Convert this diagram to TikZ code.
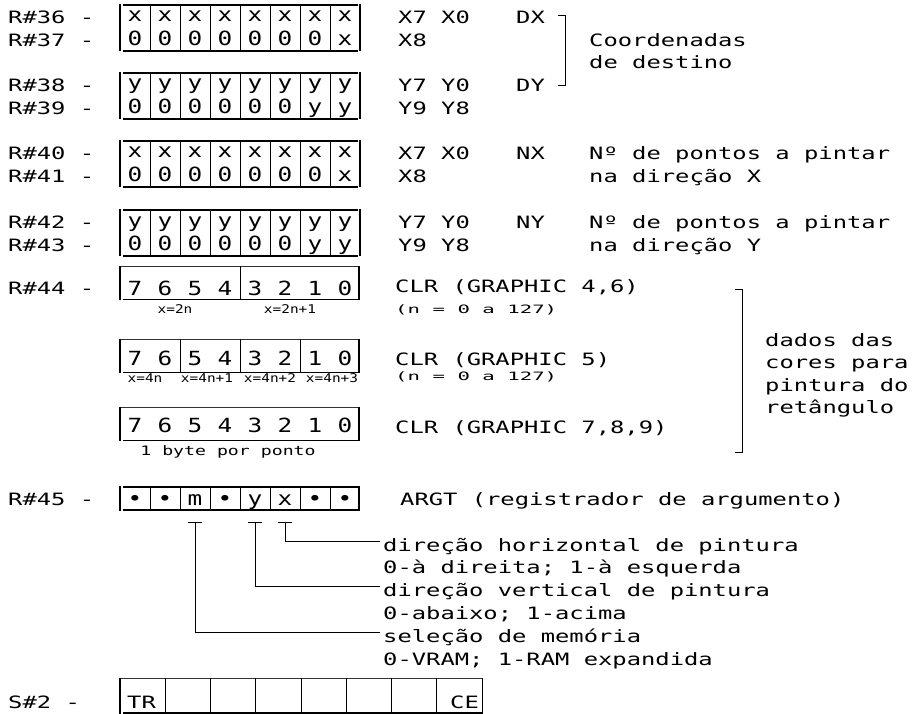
\documentclass[tikz,border=0pt]{standalone}
\usepackage{fontspec}
\usetikzlibrary{positioning}
\newfontfamily\regfont[FakeStretch=1.4]{DejaVu Sans Mono}
\newfontfamily\bitfont[FakeStretch=1.25]{DejaVu Sans Mono}
\newfontfamily\notefont[FakeStretch=1.2]{DejaVu Sans Mono}
\newfontfamily\widefont[FakeStretch=1.8]{DejaVu Sans Mono}
\tikzset{
  lbl/.style={anchor=base west, inner sep=0pt, font=\regfont\fontsize{17}{20}\selectfont},
  bit/.style={anchor=base, inner sep=0pt, font=\bitfont\fontsize{19.5}{23}\selectfont},
  note/.style={anchor=base, inner sep=0pt, font=\notefont\fontsize{12}{14}\selectfont},
  nrange/.style={anchor=base west, inner sep=0pt, font=\widefont\fontsize{11.5}{14}\selectfont},
  rule/.style={line width=1.6pt},
  bar/.style={line width=1.3pt},
  cell/.style={line width=0.9pt},
  hair/.style={line width=0.8pt, black!80},
  link/.style={line width=1pt},
}
\begin{document}
\begin{tikzpicture}[x=1pt, y=-1pt]
  \useasboundingbox (0,0) rectangle (918,714);

  % Registers R#36 to R#43, two bytes each
  \foreach \ty/\ch/\nk/\ra/\rb in {5/x/1/36/37, 73/y/2/38/39, 141/x/1/40/41, 210/y/2/42/43}{
    \node[lbl] (r\ra) at (8,\ty+18.5) {R\#\ra\ -};
    \node[lbl] (r\rb) at (8,\ty+41.5) {R\#\rb\ -};
    \draw[bar] (120,\ty-1) -- (120,\ty+46) (360,\ty-1) -- (360,\ty+46);
    \draw[rule] (123,\ty) -- (358,\ty) (123,\ty+46) -- (358,\ty+46);
    \foreach \n in {1,...,7}
      \draw[cell] (120+30*\n,\ty) -- (120+30*\n,\ty+46);
    \foreach \n in {0,...,7}{
      \node[bit] (h\ra-\n) at (135+30*\n,\ty+17) {\ch};
      \ifnum\n<\numexpr8-\nk\relax \def\val{0}\else\def\val{\ch}\fi
      \node[bit] (l\rb-\n) at (135+30*\n,\ty+41) {\val};
    }
  }

  % Destination coordinates
  \node[lbl] (dx7) at (398,23.5) {X7 X0};
  \node[lbl] (dx8) at (398,46.5) {X8};
  \node[lbl] (dx) at (516,23.5) {DX};
  \node[lbl] (dy7) at (398,91.5) {Y7 Y0};
  \node[lbl] (dy9) at (398,114.5) {Y9 Y8};
  \node[lbl] (dy) at (516,91.5) {DY};
  \draw[cell] (558,15) -- (565,15) -- (565,85) -- (558,85);
  \node[lbl] (dest1) at (589,46.5) {Coordenadas};
  \node[lbl] (dest2) at (589,68.5) {de destino};

  % Number of points
  \node[lbl] (nx7) at (398,159.5) {X7 X0};
  \node[lbl] (nx8) at (398,182.5) {X8};
  \node[lbl] (nx) at (516,159.5) {NX};
  \node[lbl] (nxa) at (589,159.5) {Nº de pontos a pintar};
  \node[lbl] (nxb) at (589,182.5) {na direção X};
  \node[lbl] (ny7) at (398,228.5) {Y7 Y0};
  \node[lbl] (ny9) at (398,251.5) {Y9 Y8};
  \node[lbl] (ny) at (516,228.5) {NY};
  \node[lbl] (nya) at (589,228.5) {Nº de pontos a pintar};
  \node[lbl] (nyb) at (589,251.5) {na direção Y};

  % Colour data, R#44
  \node[lbl] (r44) at (8,294) {R\#44 -};
  \foreach \ty/\yb in {266/295, 339/365, 407/432}{
    \draw[hair] (120,\ty) -- (359,\ty);
    \draw[bar] (120,\ty) -- (120,\ty+34) (359,\ty) -- (359,\ty+34);
    \draw[rule] (123,\ty+33.5) -- (358,\ty+33.5);
    \foreach \n in {0,...,7}
      \node[bit] (c\ty-\n) at (135+30*\n,\yb) {\the\numexpr7-\n\relax};
  }
  \draw[cell] (240,266) -- (240,299);
  \foreach \xx in {180,240,300}
    \draw[cell] (\xx,339) -- (\xx,372);
  \node[note] (xa) at (175,313) {x=2n};
  \node[note] (xb) at (290,313) {x=2n+1};
  \node[note] (xc) at (145,382) {x=4n};
  \node[note] (xd) at (207,382) {x=4n+1};
  \node[note] (xe) at (270,382) {x=4n+2};
  \node[note] (xf) at (332,382) {x=4n+3};
  \node[lbl, anchor=base, font=\regfont\fontsize{13}{15}\selectfont] (byte) at (228,455) {1 byte por ponto};
  \node[lbl] (clr1) at (395,292) {CLR (GRAPHIC 4,6)};
  \node[nrange] (rng1) at (395,313) {(n = 0 a 127)};
  \node[lbl] (clr2) at (395,365) {CLR (GRAPHIC 5)};
  \node[nrange] (rng2) at (395,380) {(n = 0 a 127)};
  \node[lbl] (clr3) at (395,433) {CLR (GRAPHIC 7,8,9)};
  \draw[cell] (735,289) -- (742,289) -- (742,452) -- (735,452);
  \node[lbl] (cor1) at (765,346) {dados das};
  \node[lbl] (cor2) at (765,368.5) {cores para};
  \node[lbl] (cor3) at (765,391) {pintura do};
  \node[lbl] (cor4) at (765,413.5) {retângulo};

  % Argument register R#45
  \node[lbl] (r45) at (8,505) {R\#45 -};
  \draw[bar] (120,486) -- (120,511) (359,486) -- (359,511);
  \draw[rule] (123,487) -- (358,487) (123,510) -- (358,510);
  \foreach \n in {1,...,7}
    \draw[cell] (120+30*\n,487) -- (120+30*\n,510);
  \foreach \s [count=\n from 0] in {•,•,m,•,y,x,•,•}
    \node[bit] (a\n) at (135+30*\n,505) {\s};
  \node[lbl] (argt) at (400,505) {ARGT (registrador de argumento)};
  \node[lbl] (hdir) at (383,551) {direção horizontal de pintura};
  \node[lbl] (hval) at (383,573) {0-à direita; 1-à esquerda};
  \node[lbl] (vdir) at (383,596) {direção vertical de pintura};
  \node[lbl] (vval) at (383,619) {0-abaixo; 1-acima};
  \node[lbl] (mdir) at (383,642) {seleção de memória};
  \node[lbl] (mval) at (383,665) {0-VRAM; 1-RAM expandida};
  \coordinate (tline) at (0,522);
  \foreach \n/\d in {5/hdir, 4/vdir, 2/mdir}{
    \draw[link] (a\n |- tline) ++(-7,0) -- ++(14,0);
    \draw[link] (a\n |- tline) |- ([xshift=-3pt,yshift=9.5pt]\d.base west);
  }

  % Status register S#2
  \node[lbl] (s2) at (8,708) {S\#2 -};
  \draw[hair] (120,678) -- (482,678);
  \draw[bar] (120,678) -- (120,714);
  \foreach \n in {1,...,8}
    \draw[cell] (120+45.25*\n,678) -- (120+45.25*\n,714);
  \draw[rule] (123,713) -- (482,713);
  \node[lbl] (tr) at (127,708) {TR};
  \node[lbl] (ce) at (450,708) {CE};
\end{tikzpicture}
\end{document}
